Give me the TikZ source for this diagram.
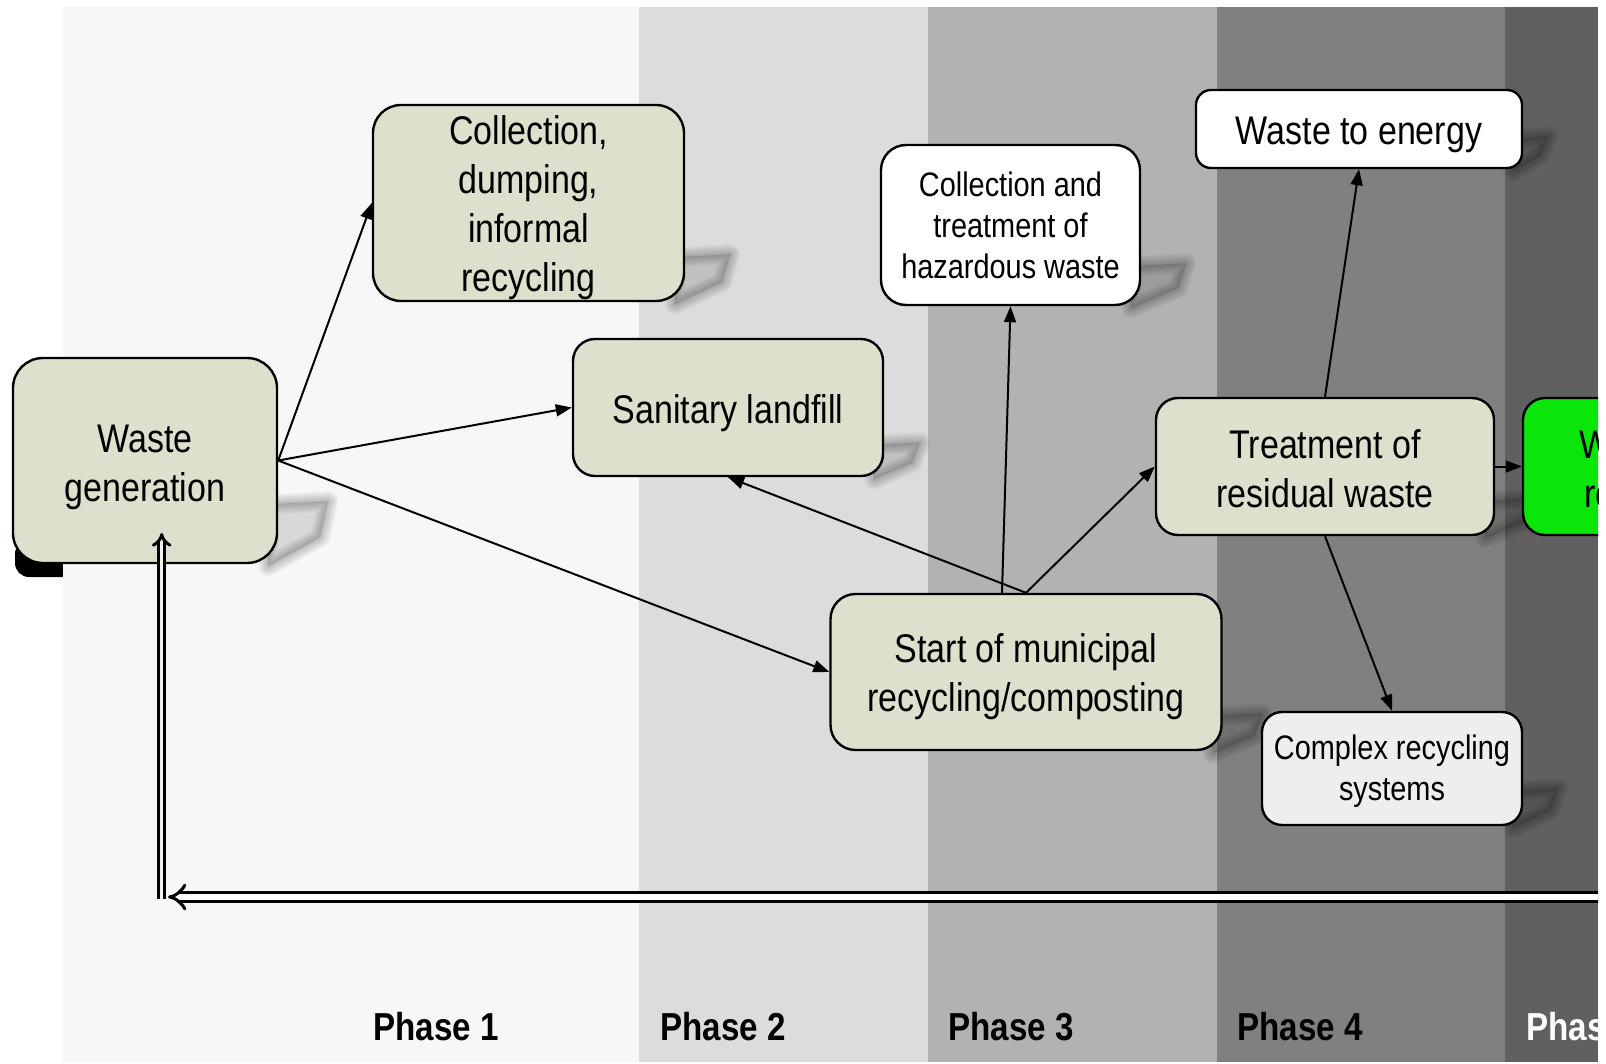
\documentclass[tikz,border=0pt]{standalone}
\usepackage{fontspec}
\setmainfont{Liberation Sans}[FakeStretch=0.85]
\usetikzlibrary{arrows.meta,calc}
\definecolor{khaki}{RGB}{222,224,205}
\definecolor{pone}{RGB}{247,247,247}
\definecolor{ptwo}{RGB}{220,220,220}
\definecolor{pthree}{RGB}{178,178,178}
\definecolor{pfour}{RGB}{128,128,128}
\definecolor{pfive}{RGB}{96,96,96}
\definecolor{lgreen}{RGB}{10,230,10}
\definecolor{lgrey}{RGB}{238,238,238}
\pgfdeclarelayer{bands}
\pgfdeclarelayer{shad}
\pgfsetlayers{bands,shad,main}
\newcommand\hs[1]{\rule{0pt}{#1pt}}
\newcommand\mkshadow[3]{%
  \fill[black,opacity=0.12]
      ($(#1.south east)+(-10,-#2)$) -- ($(#1.south east)+(#3,-#2-3)$)
      -- ($(#1.south east)+(#3-8,-0.45*#2)$) -- ($(#1.south east)+(-10,2)$) -- cycle;
  \foreach \lw in {2,5,8,11,14,17,20}{%
    \draw[black,opacity=0.035,line width=\lw pt,line join=round]
      ($(#1.south east)+(-10,-#2)$) -- ($(#1.south east)+(#3,-#2-3)$)
      -- ($(#1.south east)+(#3-8,-0.45*#2)$) -- ($(#1.south east)+(-10,2)$) -- cycle;}}
\begin{document}
\begin{tikzpicture}[x=1pt,y=-1pt,
  box/.style={draw=black,line width=2.4pt,align=center,inner sep=0pt,
    font=\fontsize{40}{49}\selectfont,fill=khaki},
  smalltext/.style={font=\fontsize{34}{41}\selectfont},
  arr/.style={line width=2pt,-{Triangle[length=16pt,width=12pt]}},
  dbl/.style={line width=3pt,double=white,double distance=6pt,-{Implies}},
  phase/.style={anchor=base west,font=\bfseries\fontsize{39}{44}\selectfont}]
\useasboundingbox (0,0) rectangle (1606,1064);
\begin{pgfonlayer}{bands}
  \fill[white] (0,0) rectangle (1606,1064);
  \fill[black,rounded corners=14pt] (15,540) rectangle (90,577);
  \fill[pone] (63,7) rectangle (639,1062);
  \fill[ptwo] (639,7) rectangle (928,1062);
  \fill[pthree] (928,7) rectangle (1217,1062);
  \fill[pfour] (1217,7) rectangle (1505,1062);
  \fill[pfive] (1505,7) rectangle (1598,1062);
\end{pgfonlayer}
\begin{scope}
\clip (0,0) rectangle (1598,1064);
\node[box,rounded corners=30pt,minimum width=264pt,minimum height=205pt] (wg) at (145,460.5) {\hs{42}Waste\\generation};
\node[box,rounded corners=28pt,minimum width=311pt,minimum height=196pt] (coll) at (528.5,203) {\hs{38}Collection,\\dumping,\\informal\\recycling};
\node[box,rounded corners=22pt,minimum width=310pt,minimum height=137pt] (san) at (728,407.5) {\hs{40}Sanitary landfill};
\node[box,smalltext,fill=white,rounded corners=25pt,minimum width=259pt,minimum height=160pt] (haz) at (1010.5,225) {Collection and\\treatment of\\hazardous waste};
\node[box,fill=white,rounded corners=15pt,minimum width=326pt,minimum height=78pt] (wte) at (1359,129) {\hs{40}Waste to energy};
\node[box,rounded corners=22pt,minimum width=338pt,minimum height=137pt] (treat) at (1325,466.5) {\hs{34}Treatment of\\residual waste};
\node[box,fill=lgreen,rounded corners=22pt,minimum width=208pt,minimum height=137pt] (green) at (1627,466.5) {\hs{34}Waste\\reuse};
\node[box,rounded corners=25pt,minimum width=391pt,minimum height=156pt] (muni) at (1026,672) {\hs{38}Start of municipal\\recycling/composting};
\node[box,smalltext,fill=lgrey,rounded corners=20pt,minimum width=260pt,minimum height=113pt] (cplx) at (1392,768.5) {\hs{31}Complex recycling\\systems};

\draw[arr] (wg.east) -- (coll.west);
\draw[arr] (wg.east) -- (san.west);
\draw[arr] (wg.east) -- (muni.west);
\draw[arr] (muni.north) -- (san.south);
\draw[arr] ($(muni.north)+(-24,0)$) -- (haz.south);
\draw[arr] (muni.north) -- (treat.west);
\draw[arr] (treat.north) -- (wte.south);
\draw[arr] (treat.south) -- (cplx.north);
\draw[arr] (treat.east) -- (green.west);

\coordinate (hr) at (1610,897);
\coordinate (hl) at (168,897);
\coordinate (vb) at (161.7,899);
\coordinate (vt) at (161.7,533);
\draw[dbl] (hr) -- (hl);
\draw[dbl,double=gray!12,double distance=3.3pt] (vb) -- (vt);

\node[phase] (p1) at (370,1040) {Phase 1};
\node[phase] (p2) at (657,1040) {Phase 2};
\node[phase] (p3) at (945,1040) {Phase 3};
\node[phase] (p4) at (1234,1040) {Phase 4};
\node[phase,text=white] (p5) at (1523,1040) {Phase 5};
\end{scope}
\begin{pgfonlayer}{shad}
\begin{scope}
\clip (0,0) rectangle (1598,1064);
\mkshadow{wg}{60}{50}
\mkshadow{coll}{45}{45}
\mkshadow{san}{32}{36}
\mkshadow{haz}{40}{45}
\mkshadow{wte}{30}{25}
\mkshadow{treat}{35}{40}
\mkshadow{muni}{35}{40}
\mkshadow{cplx}{35}{35}
\end{scope}
\end{pgfonlayer}
\end{tikzpicture}
\end{document}
